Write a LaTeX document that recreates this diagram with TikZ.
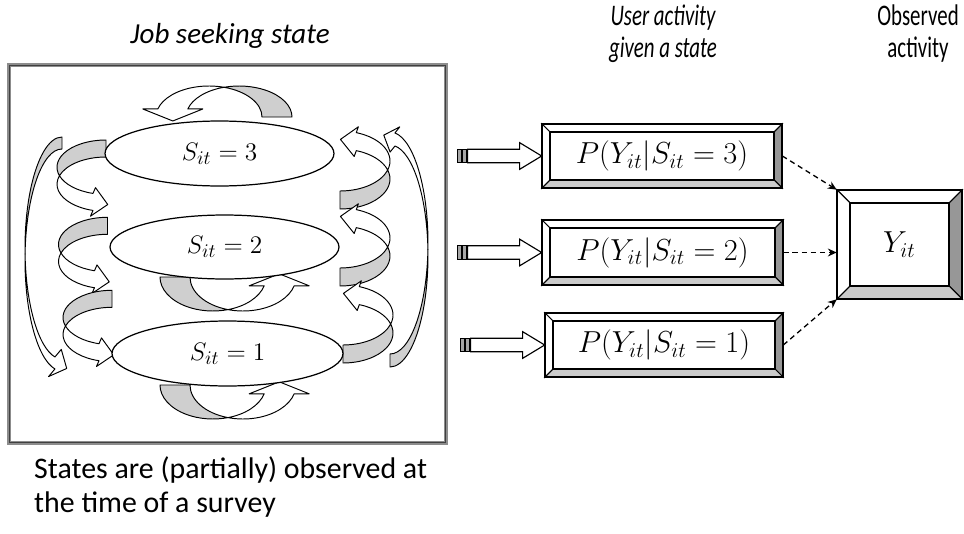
\documentclass[tikz,border=0pt]{standalone}
\usepackage{fontspec}
\setmainfont{Carlito}
\newfontfamily\narrowfont[FakeStretch=0.7]{Carlito}
\usetikzlibrary{arrows.meta,shapes.geometric}

\definecolor{ribbongray}{HTML}{CFCFCF}
\definecolor{bevdark}{HTML}{979797}
\definecolor{bevlight}{HTML}{CBCBCB}
\definecolor{framegray}{HTML}{8C8C8C}

\tikzset{
  ribbonback/.style={fill=ribbongray, draw=black, line width=0.55pt, line join=round},
  ribbonfront/.style={fill=white, draw=black, line width=0.55pt, line join=round},
  stateell/.style={ellipse, draw=black, fill=white, line width=0.7pt, inner sep=0pt,
                   font=\fontsize{15}{18}\selectfont},
  bevelline/.style={draw=black, line width=0.6pt, line join=miter},
  probbox/.style={inner sep=0pt, font=\fontsize{16.5}{19}\selectfont},
  hdr/.style={align=center, font=\narrowfont\fontsize{17}{18.2}\selectfont},
  hdrit/.style={align=center, font=\narrowfont\itshape\fontsize{17}{18.2}\selectfont},
  title/.style={align=center, font=\itshape\fontsize{16.5}{18.2}\selectfont},
  note/.style={align=left, anchor=west, font=\fontsize{17}{19.4}\selectfont},
  dasharrow/.style={dash pattern=on 3pt off 2.2pt, line width=0.75pt,
                    -{Stealth[length=5pt,width=4.5pt]}},
  blockarrow/.style={fill=white, draw=black, line width=0.65pt, line join=miter},
  stripe/.style={fill=black!35, draw=black, line width=0.5pt},
}

% Curved ribbon arrow built from two offset half ellipses.
% Local frame: y points down, the back face opens upward on the left,
% the front face ends on the right with an arrowhead.
% #1 x radius, #2 y radius, #3 ribbon offset, #4 end angle of the shaft,
% #5 barb overhang, #6 head length, #7 head tilt
\newcommand\curvedribbon[7]{%
  \pgfmathsetmacro\crA{acos(#3/(2*#1))}%
  \pgfmathsetmacro\crB{180-\crA}%
  \pgfmathsetmacro\crLx{#1*cos(#4)}%
  \pgfmathsetmacro\crLy{#2*sin(#4)}%
  \pgfmathsetmacro\crMx{\crLx+#3/2}%
  \pgfmathsetmacro\crHw{#3/2+#5}%
  \pgfmathsetmacro\crIx{\crMx-\crHw*cos(#7)}%
  \pgfmathsetmacro\crIy{\crLy-\crHw*sin(#7)}%
  \pgfmathsetmacro\crOx{\crMx+\crHw*cos(#7)}%
  \pgfmathsetmacro\crOy{\crLy+\crHw*sin(#7)}%
  \pgfmathsetmacro\crTx{\crMx+#6*sin(#7)}%
  \pgfmathsetmacro\crTy{\crLy-#6*cos(#7)}%
  \filldraw[ribbonback] (-#1,0)
     arc[start angle=180, end angle=\crA, x radius=#1, y radius=#2]
     arc[start angle=\crB, end angle=180, x radius=#1, y radius=#2] -- cycle;
  \filldraw[ribbonfront] (\crA:#1 and #2)
     arc[start angle=\crA, end angle=#4, x radius=#1, y radius=#2]
     -- (\crIx,\crIy) -- (\crTx,\crTy) -- (\crOx,\crOy) -- (\crLx+#3,\crLy)
     arc[start angle=#4, end angle=\crB, x radius=#1, y radius=#2] -- cycle;
}

% Bevelled frame: #1,#2 top left corner, #3,#4 bottom right corner, #5 bevel
\newcommand\bevelframe[5]{%
  \filldraw[bevelline, fill=white] (#1,#2) -- (#3,#2) -- (#3-#5,#2+#5) -- (#1+#5,#2+#5) -- cycle;
  \filldraw[bevelline, fill=white] (#1,#2) -- (#1+#5,#2+#5) -- (#1+#5,#4-#5) -- (#1,#4) -- cycle;
  \filldraw[bevelline, fill=bevdark] (#3,#2) -- (#3,#4) -- (#3-#5,#4-#5) -- (#3-#5,#2+#5) -- cycle;
  \filldraw[bevelline, fill=bevlight] (#1,#4) -- (#3,#4) -- (#3-#5,#4-#5) -- (#1+#5,#4-#5) -- cycle;
  \draw[bevelline, fill=white] (#1+#5,#2+#5) rectangle (#3-#5,#4-#5);
  \draw[bevelline, line width=1pt] (#1,#2) rectangle (#3,#4);
}

% Striped block arrow ending at the west side of a node
\newcommand\stripedarrow[1]{%
  \begin{scope}[shift={(#1.west)}]
    \filldraw[stripe] (-84,-6.7) rectangle (-80.5,6.7);
    \filldraw[stripe] (-79,-6.7) rectangle (-75.5,6.7);
    \filldraw[blockarrow] (-74,-6.7) -- (-22,-6.7) -- (-22,-13.3) -- (0,0)
       -- (-22,13.3) -- (-22,6.7) -- (-74,6.7) -- cycle;
  \end{scope}}

\begin{document}
\begin{tikzpicture}[x=0.02cm, y=-0.02cm]
\useasboundingbox (0,0) rectangle (964,534);

% headings
\node[title] (hstate) at (230,36) {Job seeking state};
\node[hdrit] (hact) at (663,34) {User activity\\given a state};
\node[hdr] (hobs) at (918,34) {Observed\\activity};
\node[note] (hnote) at (28,487) {States are (partially) observed at\\the time of a survey};

% frame round the state chain
\node[draw=framegray, fill=white, line width=2.2pt, minimum width=8.74cm,
      minimum height=7.56cm, inner sep=0pt] (frame) at (227.5,254) {};
\draw[black!75, line width=0.5pt] ([shift={(2.5,2.5)}]frame.north west)
      rectangle ([shift={(-2.5,-2.5)}]frame.south east);

% long arrow on the left
\begin{scope}[shift={(62,248)}, rotate=-90]
  \curvedribbon{111}{37}{12}{11}{9}{13}{25}
\end{scope}
% small arrows on the left
\begin{scope}[shift={(106,167.2)}, rotate=-90]
  \curvedribbon{27.2}{49}{17}{15.4}{6}{15}{10}
\end{scope}
\begin{scope}[shift={(107.5,244.5)}, rotate=-90]
  \curvedribbon{27.2}{49}{17}{15.4}{6}{15}{10}
\end{scope}
\begin{scope}[shift={(112,317.5)}, rotate=-90]
  \curvedribbon{27.2}{49}{17}{15.4}{6}{15}{10}
\end{scope}
% long arrow on the right
\begin{scope}[shift={(390,256)}, rotate=90]
  \curvedribbon{111}{38}{13}{7.5}{7}{12}{21}
\end{scope}
% small arrows on the right
\begin{scope}[shift={(340,179)}, rotate=90]
  \curvedribbon{30}{50}{18}{19}{6}{16}{8}
\end{scope}
\begin{scope}[shift={(340,256)}, rotate=90]
  \curvedribbon{30}{50}{18}{19}{6}{16}{8}
\end{scope}
\begin{scope}[shift={(343,333)}, rotate=90]
  \curvedribbon{30}{50}{18}{19}{6}{16}{8}
\end{scope}
% self loops
\begin{scope}[shift={(239,117)}, rotate=180]
  \curvedribbon{53}{31}{30}{15}{15}{12}{0}
\end{scope}
\begin{scope}[shift={(213,277)}]
  \curvedribbon{53}{34}{30}{15}{15}{12}{0}
\end{scope}
\begin{scope}[shift={(213,385)}]
  \curvedribbon{53}{34}{30}{15}{15}{12}{0}
\end{scope}

% states
\node[stateell, minimum width=4.58cm, minimum height=1.3cm] (s3) at (219.5,153.5) {$S_{it} = 3$};
\node[stateell, minimum width=4.58cm, minimum height=1.28cm] (s2) at (224.5,247) {$S_{it} = 2$};
\node[stateell, minimum width=4.62cm, minimum height=1.3cm] (s1) at (227.5,353.5) {$S_{it} = 1$};

% emission boxes
\bevelframe{542}{124}{782}{188}{8}
\node[probbox, minimum width=4.8cm, minimum height=1.28cm] (p3) at (662,156) {$P(Y_{it}|S_{it} = 3)$};
\bevelframe{542}{220}{783}{285}{8}
\node[probbox, minimum width=4.82cm, minimum height=1.3cm] (p2) at (662.5,252.5) {$P(Y_{it}|S_{it} = 2)$};
\bevelframe{545}{313}{783}{377}{8}
\node[probbox, minimum width=4.76cm, minimum height=1.28cm] (p1) at (664,345) {$P(Y_{it}|S_{it} = 1)$};

% observation box
\bevelframe{837}{190}{962}{299}{13}
\node[probbox, minimum width=2.5cm, minimum height=2.18cm] (yobs) at (899.5,244.5) {$Y_{it}$};

% striped arrows into the emission boxes
\stripedarrow{p3}
\stripedarrow{p2}
\stripedarrow{p1}

% dashed links to the observation
\draw[dasharrow] (p3.east) -- (yobs.north west);
\draw[dasharrow] (p2.east) -- (p2.east -| yobs.west);
\draw[dasharrow] (p1.east) -- (yobs.south west);
\end{tikzpicture}
\end{document}
